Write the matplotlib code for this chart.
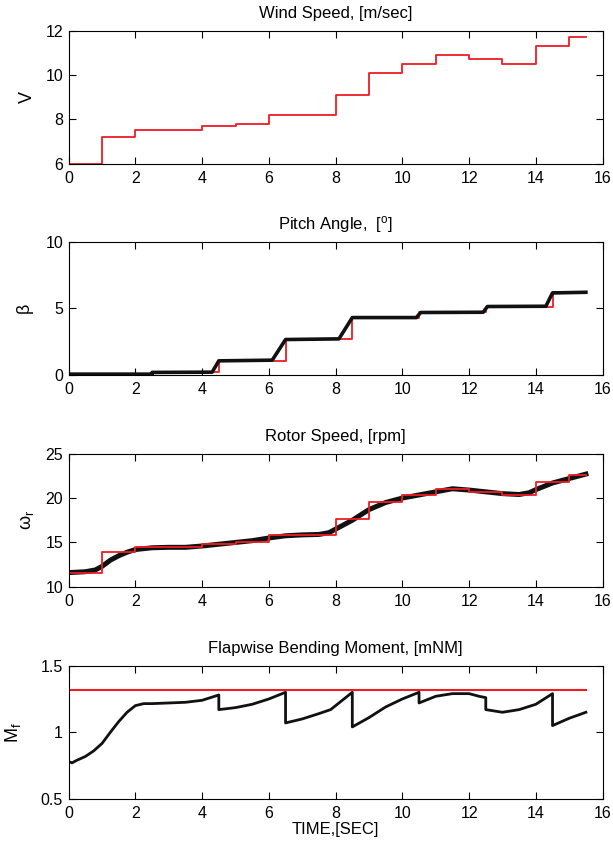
import matplotlib
matplotlib.use("Agg")
import matplotlib.pyplot as plt

plt.rcParams['font.family'] = ['Liberation Sans', 'DejaVu Sans']
plt.rcParams['mathtext.fontset'] = 'custom'
plt.rcParams['mathtext.rm'] = 'Liberation Sans'
plt.rcParams['mathtext.it'] = 'Liberation Sans'

# wind speed reference (step, red)
wind_t = [0, 1, 2, 4, 5, 6, 8, 9, 10, 11, 12, 13, 14, 15, 15.5]
wind_v = [6.0, 7.2, 7.5, 7.7, 7.8, 8.2, 9.1, 10.1, 10.5, 10.9, 10.7, 10.5, 11.3, 11.7, 11.7]

# pitch angle: reference steps (red) and measured (black)
pitch_ref_t = [0, 2.5, 4.5, 6.5, 8.5, 10.5, 12.5, 14.5, 15.5]
pitch_ref_v = [0.05, 0.2, 1.05, 2.7, 4.3, 4.7, 5.13, 6.2, 6.2]
pitch_t = [0, 2.5, 2.5, 4.3, 4.5, 6.1, 6.5, 8.1, 8.5, 10.42, 10.55, 12.42, 12.55, 14.3, 14.5, 15.5]
pitch_v = [0.05, 0.05, 0.18, 0.2, 1.05, 1.1, 2.65, 2.7, 4.3, 4.3, 4.68, 4.7, 5.13, 5.15, 6.15, 6.2]

# rotor speed: reference steps (red) and measured (black)
rotor_ref_t = [0, 1, 2, 4, 5, 6, 8, 9, 10, 11, 12, 13, 14, 15, 15.5]
rotor_ref_v = [11.6, 13.9, 14.5, 14.8, 15.0, 15.8, 17.6, 19.5, 20.3, 21.0, 20.7, 20.3, 21.8, 22.6, 22.6]
rotor_t = [0, 0.5, 0.8, 1.0, 1.25, 1.5, 1.75, 2, 2.5, 3, 3.5, 4, 4.5, 5, 5.5, 6, 6.5, 7, 7.5,
           7.8, 8, 8.5, 9, 9.5, 10, 10.5, 11, 11.5, 12, 12.5, 13, 13.5, 13.8, 14, 14.5, 15, 15.5]
rotor_v = [11.6, 11.7, 11.9, 12.3, 13.0, 13.5, 13.9, 14.2, 14.4, 14.45, 14.45, 14.6, 14.8, 15.0,
           15.2, 15.5, 15.75, 15.85, 15.9, 16.1, 16.5, 17.5, 18.7, 19.5, 20.0, 20.35, 20.7, 21.05,
           20.9, 20.7, 20.5, 20.4, 20.6, 20.95, 21.7, 22.2, 22.7]

# flapwise bending moment: limit (red) and measured (black)
moment_lim_t = [0, 15.5]
moment_lim_v = [1.32, 1.32]
moment_t = [0, 0.1, 0.25, 0.5, 0.75, 1, 1.25, 1.5, 1.75, 2, 2.25, 2.5, 3, 3.5, 4, 4.5, 4.5, 5,
            5.5, 6, 6.5, 6.5, 7, 7.5, 7.85, 8.2, 8.5, 8.5, 9, 9.5, 10, 10.5, 10.5, 11, 11.5, 12,
            12.3, 12.5, 12.5, 13, 13.5, 14, 14.5, 14.5, 15, 15.5]
moment_v = [0.78, 0.77, 0.79, 0.818, 0.86, 0.916, 1.0, 1.08, 1.15, 1.20, 1.215, 1.215, 1.22,
            1.225, 1.24, 1.28, 1.17, 1.185, 1.21, 1.25, 1.30, 1.07, 1.10, 1.14, 1.17, 1.24, 1.30,
            1.04, 1.11, 1.19, 1.25, 1.30, 1.22, 1.27, 1.29, 1.29, 1.27, 1.26, 1.17, 1.15, 1.17,
            1.21, 1.29, 1.05, 1.105, 1.15]

fig = plt.figure(figsize=(6.13, 8.48), dpi=100)
left, width, height = 0.112, 0.871, 0.157
bottoms = [0.807, 0.558, 0.308, 0.058]
axs = [fig.add_axes([left, b, width, height]) for b in bottoms]

red = '#ee1c24'

ax = axs[0]
ax.step(wind_t, wind_v, where='post', color=red, lw=1.3)
ax.set_ylim(6, 12)
ax.set_yticks([6, 8, 10, 12])
ax.set_ylabel('V')
ax.yaxis.set_label_coords(-0.062, 0.5)
ax.set_title('Wind Speed, [m/sec]')

ax = axs[1]
ax.step(pitch_ref_t, pitch_ref_v, where='post', color=red, lw=1.3)
ax.plot(pitch_t, pitch_v, color='#111111', lw=2.6)
ax.set_ylim(0, 10)
ax.set_yticks([0, 5, 10])
ax.set_ylabel('β')
ax.yaxis.set_label_coords(-0.068, 0.5)
ax.set_title('Pitch Angle,  [$^{\\mathrm{o}}$]')

ax = axs[2]
ax.plot(rotor_t, rotor_v, color='#111111', lw=3.6)
ax.step(rotor_ref_t, rotor_ref_v, where='post', color=red, lw=1.3)
ax.set_ylim(10, 25)
ax.set_yticks([10, 15, 20, 25])
ax.set_ylabel('ω$_r$')
ax.yaxis.set_label_coords(-0.062, 0.5)
ax.set_title('Rotor Speed, [rpm]')

ax = axs[3]
ax.plot(moment_lim_t, moment_lim_v, color=red, lw=1.5)
ax.plot(moment_t, moment_v, color='#111111', lw=2.0)
ax.set_ylim(0.5, 1.5)
ax.set_yticks([0.5, 1, 1.5])
ax.set_yticklabels(['0.5', '1', '1.5'])
ax.set_ylabel('M$_f$')
ax.yaxis.set_label_coords(-0.085, 0.5)
ax.set_title('Flapwise Bending Moment, [mNM]')
ax.set_xlabel('TIME,[SEC]', fontsize=12, labelpad=1)

for ax in axs:
    ax.set_xlim(0, 16)
    ax.set_xticks(range(0, 17, 2))
    ax.tick_params(direction='in', top=True, right=True, length=5, labelsize=11.5)
    ax.tick_params(axis='x', pad=5)
    ax.tick_params(axis='y', pad=4)
    ax.title.set_fontsize(12)
    ax.title.set_position((0.5, 1.0))
    ax.set_title(ax.get_title(), fontsize=12, pad=9)
    ax.yaxis.label.set_fontsize(13)
    for s in ax.spines.values():
        s.set_linewidth(0.8)

fig.savefig('out.png', dpi=100)
